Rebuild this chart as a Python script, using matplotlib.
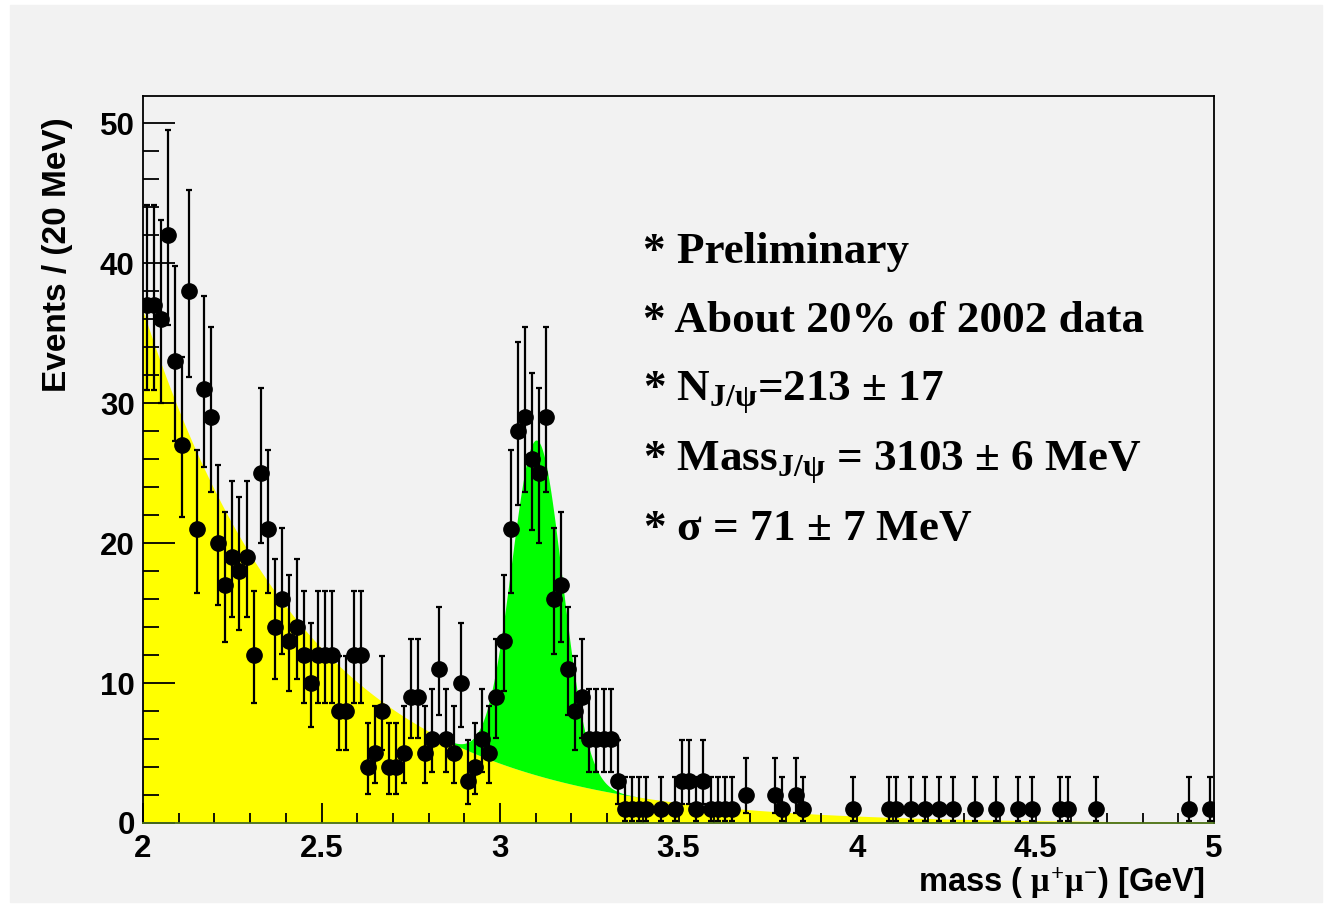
import math
import numpy as np
import matplotlib.pyplot as plt
from matplotlib.patches import Rectangle
from matplotlib.ticker import MultipleLocator

plt.rcParams['font.family'] = 'Liberation Sans'
plt.rcParams['font.weight'] = 'bold'
plt.rcParams['mathtext.fontset'] = 'custom'
plt.rcParams['mathtext.rm'] = 'Liberation Serif:bold'
plt.rcParams['mathtext.bf'] = 'Liberation Serif:bold'
plt.rcParams['mathtext.it'] = 'Liberation Serif'

# dimuon mass histogram, 20 MeV bins from 2 to 5 GeV
m_lo, m_hi, bin_w = 2.0, 5.0, 0.02
counts = [
    37, 37, 36, 42, 33, 27, 38, 21, 31, 29,
    20, 17, 19, 18, 19, 12, 25, 21, 14, 16,
    13, 14, 12, 10, 12, 12, 12, 8, 8, 12,
    12, 4, 5, 8, 4, 4, 5, 9, 9, 5,
    6, 11, 6, 5, 10, 3, 4, 6, 5, 9,
    13, 21, 28, 29, 26, 25, 29, 16, 17, 11,
    8, 9, 6, 6, 6, 6, 3, 1, 1, 1,
    1, 0, 1, 0, 1, 3, 3, 1, 3, 1,
    1, 1, 1, 0, 2, 0, 0, 0, 2, 1,
    0, 2, 1, 0, 0, 0, 0, 0, 0, 1,
    0, 0, 0, 0, 1, 1, 0, 1, 0, 1,
    0, 1, 0, 1, 0, 0, 1, 0, 0, 1,
    0, 0, 1, 0, 1, 0, 0, 0, 1, 1,
    0, 0, 0, 1, 0, 0, 0, 0, 0, 0,
    0, 0, 0, 0, 0, 0, 1, 0, 0, 1,
]

# fit result: exponential background + gaussian J/psi
bg_norm = 36.6     # events/bin at 2 GeV
bg_slope = 2.15    # 1/GeV
n_jpsi = 213
m_jpsi = 3.103
s_jpsi = 0.071

x_ticks = [2, 2.5, 3, 3.5, 4, 4.5, 5]
x_ticklabels = ['2', '2.5', '3', '3.5', '4', '4.5', '5']
y_ticks = [0, 10, 20, 30, 40, 50]

info_lines = [
    '* Preliminary',
    '* About 20% of 2002 data',
    r'* N$_{\mathrm{J/}\psi}$=213 $\pm$ 17',
    r'* Mass$_{\mathrm{J/}\psi}$ = 3103 $\pm$ 6 MeV',
    r'* $\sigma$ = 71 $\pm$ 7 MeV',
]


def pois_cdf(k, mu):
    if k < 0:
        return 0.0
    term = math.exp(-mu)
    s = term
    for i in range(1, k + 1):
        term *= mu / i
        s += term
    return s


def solve_dec(f, a, b):
    # root of a decreasing function by bisection
    for _ in range(80):
        m = 0.5 * (a + b)
        if f(m) > 0:
            a = m
        else:
            b = m
    return 0.5 * (a + b)


def poisson_err(n, cl=0.682689):
    a2 = 0.5 * (1 - cl)
    up = solve_dec(lambda mu: pois_cdf(n, mu) - a2, n, n + 60)
    lo = 0.0 if n == 0 else solve_dec(lambda mu: pois_cdf(n - 1, mu) - (1 - a2), 0, n)
    return n - lo, up - n


counts = np.array(counts)
centers = m_lo + bin_w * (np.arange(len(counts)) + 0.5)
sel = counts > 0
errs = np.array([poisson_err(int(n)) for n in counts[sel]])

W, H = 1332, 907
fig = plt.figure(figsize=(W / 100, H / 100), dpi=100)
fig.patch.set_facecolor('white')
fig.patches.append(Rectangle((10 / W, 1 - 902 / H), 1312 / W, 897 / H,
                             transform=fig.transFigure, color='#f2f2f2', zorder=-10))

ax = fig.add_axes([143 / W, 1 - 823 / H, (1214 - 143) / W, (823 - 96) / H])
ax.set_facecolor('#f2f2f2')

xf = np.linspace(m_lo, m_hi, 1500)
bg = bg_norm * np.exp(-bg_slope * (xf - m_lo))
sig = n_jpsi * bin_w / (math.sqrt(2 * math.pi) * s_jpsi) * np.exp(-0.5 * ((xf - m_jpsi) / s_jpsi) ** 2)
ax.fill_between(xf, 0, bg, color='#ffff00', lw=0, zorder=1)
ax.fill_between(xf, bg, bg + sig, color='#00ff00', lw=0, zorder=1)

ax.errorbar(centers[sel], counts[sel], yerr=[errs[:, 0], errs[:, 1]], fmt='o',
            color='black', ms=11, elinewidth=1.6, capsize=2.5, capthick=1.6, zorder=3)

ax.set_xlim(m_lo, m_hi)
ax.set_ylim(0, 51.93)
ax.set_xticks(x_ticks)
ax.set_xticklabels(x_ticklabels)
ax.set_yticks(y_ticks)
ax.xaxis.set_minor_locator(MultipleLocator(0.1))
ax.yaxis.set_minor_locator(MultipleLocator(2))
ax.tick_params(axis='both', which='both', direction='in', top=False, right=False,
               labelsize=22.5, colors='black', width=1.3)
ax.tick_params(axis='x', which='major', length=14.5, pad=8)
ax.tick_params(axis='x', which='minor', length=7.2)
ax.tick_params(axis='y', which='major', length=23, pad=6)
ax.tick_params(axis='y', which='minor', length=11.5)
for sp in ax.spines.values():
    sp.set_linewidth(1.3)
ax.spines['bottom'].set_color('#4a7020')
ax.spines['bottom'].set_zorder(4)

fig.text(58 / W, 1 - 117 / H, 'Events / (20 MeV)', rotation=90, ha='center', va='top',
         fontsize=24, fontweight='bold')
fig.text(1205 / W, 1 - 892 / H, r'mass ( $\mu^{+}\mu^{-}$) [GeV]', ha='right', va='baseline',
         fontsize=23.5, fontweight='bold')

baselines = [263, 332, 401, 471, 540]
for txt, yb in zip(info_lines, baselines):
    fig.text(643 / W, 1 - yb / H, txt, ha='left', va='baseline', fontsize=32.5,
             family='Liberation Serif', fontweight='bold')

fig.savefig('out.png', dpi=100)
